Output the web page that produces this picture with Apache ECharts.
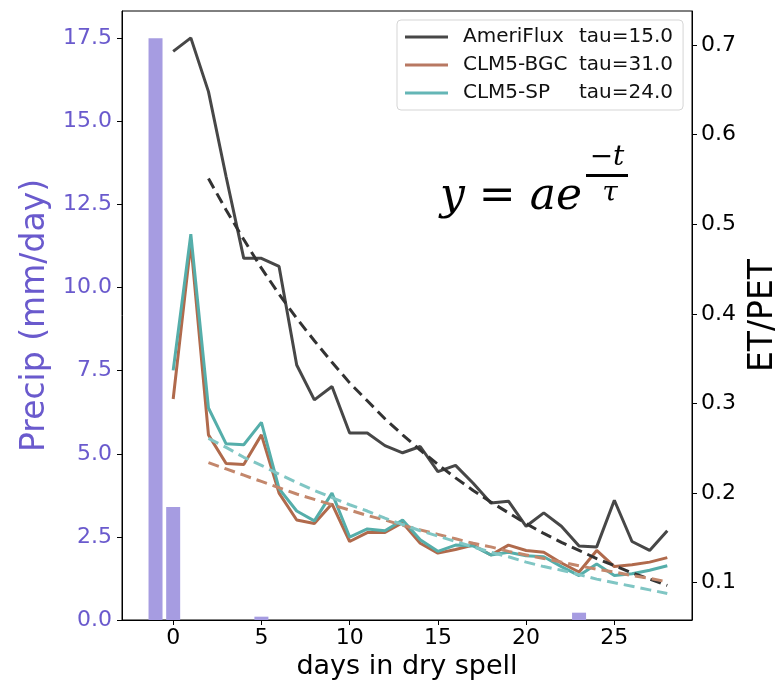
<!DOCTYPE html>
<html>
<head>
<meta charset="utf-8">
<script src="https://cdn.jsdelivr.net/npm/echarts@6/dist/echarts.min.js"></script>
<style>html,body{margin:0;padding:0;background:#fff}#c{width:779px;height:691px}</style>
</head>
<body>
<div id="c"></div>
<script>
// ---- data ----
const days = [0,1,2,3,4,5,6,7,8,9,10,11,12,13,14,15,16,17,18,19,20,21,22,23,24,25,26,27,28];
const ameriflux = [0.693,0.708,0.648,0.553,0.462,0.462,0.453,0.343,0.304,0.319,0.267,0.267,0.253,0.245,0.252,0.224,0.231,0.211,0.189,0.191,0.163,0.178,0.163,0.141,0.140,0.192,0.146,0.136,0.158];
const clm5bgc = [0.305,0.479,0.265,0.233,0.232,0.265,0.200,0.170,0.166,0.188,0.146,0.156,0.156,0.167,0.144,0.133,0.137,0.142,0.131,0.142,0.136,0.134,0.122,0.112,0.136,0.118,0.120,0.123,0.128];
const clm5sp = [0.337,0.489,0.295,0.255,0.254,0.279,0.205,0.180,0.169,0.200,0.151,0.160,0.158,0.170,0.148,0.135,0.142,0.141,0.131,0.134,0.130,0.129,0.118,0.108,0.121,0.108,0.110,0.114,0.119];
const fitDays = [2,3,4,5,6,7,8,9,10,11,12,13,14,15,16,17,18,19,20,21,22,23,24,25,26,27,28];
const amerifluxFit = [0.551,0.516,0.483,0.451,0.422,0.395,0.370,0.346,0.323,0.303,0.283,0.265,0.248,0.232,0.217,0.203,0.190,0.178,0.166,0.155,0.145,0.136,0.127,0.119,0.111,0.104,0.097];
const clm5bgcFit = [0.234,0.227,0.220,0.213,0.206,0.199,0.193,0.187,0.181,0.175,0.170,0.164,0.159,0.154,0.149,0.144,0.140,0.135,0.131,0.127,0.123,0.119,0.115,0.112,0.108,0.105,0.101];
const clm5spFit = [0.261,0.251,0.240,0.231,0.221,0.212,0.203,0.195,0.187,0.180,0.172,0.165,0.158,0.152,0.146,0.140,0.134,0.129,0.123,0.118,0.114,0.109,0.104,0.100,0.096,0.092,0.088];
const precipDays = [-1,0,5,23];
const precip = [17.5,3.4,0.1,0.22];
const xTicks = [0,5,10,15,20,25];
const precipTicks = [0,2.5,5,7.5,10,12.5,15,17.5];
const etTicks = [0.1,0.2,0.3,0.4,0.5,0.6,0.7];
const seriesNames = ['AmeriFlux','CLM5-BGC','CLM5-SP'];
const taus = ['tau=15.0','tau=31.0','tau=24.0'];

const pair = (xs, ys) => xs.map((x, i) => [x, ys[i]]);
const FONT = '"DejaVu Sans", sans-serif';
const cBlack = '#474747', cBrown = '#b06a4c', cTeal = '#55aeaa';

const chart = echarts.init(document.getElementById('c'), null, {renderer: 'canvas'});
chart.setOption({
  animation: false,
  grid: {left: 122, right: 87, top: 11, bottom: 71, show: true, borderColor: '#000', borderWidth: 1,
    containLabel: false, outerBoundsMode: 'none'},
  xAxis: {
    type: 'value', min: -2.9, max: 29.4,
    name: 'days in dry spell', nameLocation: 'middle', nameGap: 31,
    nameTextStyle: {fontFamily: FONT, fontSize: 27, color: '#000'},
    axisLine: {show: true, onZero: false, lineStyle: {color: '#000', width: 1}},
    axisTick: {show: true, length: 5, lineStyle: {color: '#000'}, customValues: xTicks},
    axisLabel: {fontFamily: FONT, fontSize: 22, color: '#000', margin: 7, customValues: xTicks},
    splitLine: {show: false}
  },
  yAxis: [{
    type: 'value', min: 0, max: 18.32, position: 'left',
    name: 'Precip (mm/day)', nameLocation: 'middle', nameGap: 68,
    nameTextStyle: {fontFamily: FONT, fontSize: 33, color: '#6a5acd'},
    axisLine: {show: true, onZero: false, lineStyle: {color: '#000', width: 1}},
    axisTick: {show: true, length: 5, lineStyle: {color: '#000'}, customValues: precipTicks},
    axisLabel: {fontFamily: FONT, fontSize: 22, color: '#6a5acd', margin: 10, customValues: precipTicks,
      formatter: v => v.toFixed(1)},
    splitLine: {show: false}
  }, {
    type: 'value', min: 0.0584, max: 0.738, position: 'right',
    name: 'ET/PET', nameLocation: 'middle', nameGap: 51,
    nameTextStyle: {fontFamily: FONT, fontSize: 33, color: '#000'},
    axisLine: {show: true, onZero: false, lineStyle: {color: '#000', width: 1}},
    axisTick: {show: true, length: 5, lineStyle: {color: '#000'}, customValues: etTicks},
    axisLabel: {fontFamily: FONT, fontSize: 22, color: '#000', margin: 9, customValues: etTicks,
      formatter: v => v.toFixed(1)},
    splitLine: {show: false}
  }],
  legend: {
    data: seriesNames, orient: 'vertical', left: 397, top: 20,
    padding: [6, 10, 6, 8], itemGap: 6,
    backgroundColor: 'rgba(255,255,255,0.85)', borderColor: '#d5d5d5', borderWidth: 1, borderRadius: 4,
    icon: 'rect', itemWidth: 43, itemHeight: 3,
    formatter: name => '{n|' + name + '}{t|' + taus[seriesNames.indexOf(name)] + '}',
    textStyle: {fontFamily: FONT, fontSize: 20, color: '#111', lineHeight: 22,
      rich: {n: {fontFamily: FONT, fontSize: 20, width: 116, padding: [0,0,0,10], color: '#111'},
             t: {fontFamily: FONT, fontSize: 20, color: '#111'}}}
  },
  series: [
    {type: 'bar', name: 'Precip', yAxisIndex: 0, data: pair(precipDays, precip), barWidth: 14,
      itemStyle: {color: '#a69ce1'}},
    {type: 'line', name: 'AmeriFlux', yAxisIndex: 1, data: pair(days, ameriflux), symbol: 'none',
      lineStyle: {color: cBlack, width: 3}, itemStyle: {color: cBlack}},
    {type: 'line', name: 'CLM5-BGC', yAxisIndex: 1, data: pair(days, clm5bgc), symbol: 'none',
      lineStyle: {color: cBrown, width: 3}, itemStyle: {color: '#b87862'}},
    {type: 'line', name: 'CLM5-SP', yAxisIndex: 1, data: pair(days, clm5sp), symbol: 'none',
      lineStyle: {color: cTeal, width: 3}, itemStyle: {color: '#64b6b6'}},
    {type: 'line', name: 'AmeriFlux fit', yAxisIndex: 1, data: pair(fitDays, amerifluxFit), symbol: 'none',
      lineStyle: {color: '#333', width: 3, type: [11, 6]}},
    {type: 'line', name: 'CLM5-BGC fit', yAxisIndex: 1, data: pair(fitDays, clm5bgcFit), symbol: 'none',
      lineStyle: {color: '#c3876c', width: 3, type: [11, 6]}},
    {type: 'line', name: 'CLM5-SP fit', yAxisIndex: 1, data: pair(fitDays, clm5spFit), symbol: 'none',
      lineStyle: {color: '#80c6c4', width: 3, type: [11, 6]}}
  ],
  graphic: [
    {type: 'text', left: 440, top: 176, style: {text: 'y = ae', font: 'italic 44px "DejaVu Serif"', fill: '#000'}},
    {type: 'text', x: 607, y: 158, style: {text: '\u2212t', font: 'italic 28px "DejaVu Serif"', fill: '#000', align: 'center', verticalAlign: 'middle'}},
    {type: 'rect', shape: {x: 586, y: 174, width: 42, height: 3}, style: {fill: '#000'}},
    {type: 'text', x: 610, y: 194, style: {text: '\u03c4', font: 'italic 28px "DejaVu Serif"', fill: '#000', align: 'center', verticalAlign: 'middle'}}
  ]
});
</script>
</body>
</html>
